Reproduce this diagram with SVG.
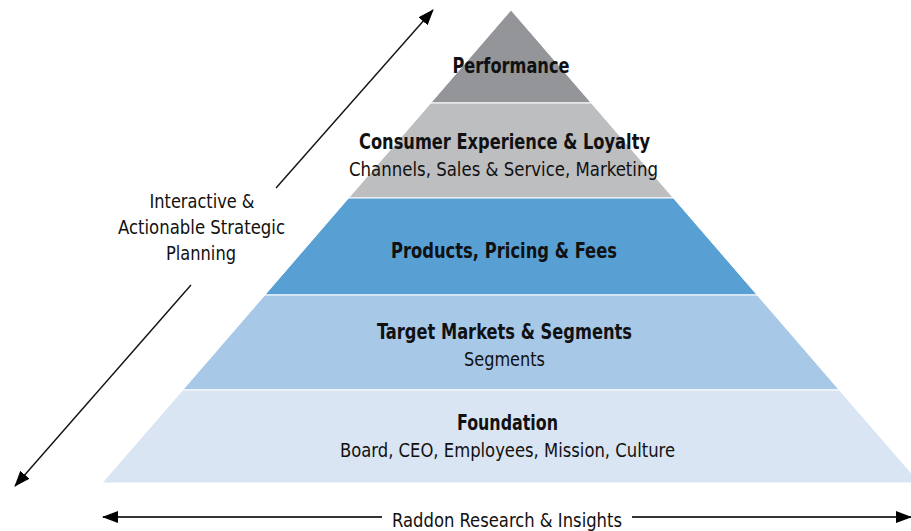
<svg xmlns="http://www.w3.org/2000/svg" width="911" height="531" viewBox="0 0 911 531">
  <defs>
    <style>
      text { font-family: "Liberation Sans Narrow", "DejaVu Sans Condensed", "Liberation Sans", sans-serif; fill: #111; text-anchor: middle; }
      .title { font-size: 21px; font-weight: bold; }
      .sub { font-size: 20px; }
      .side { font-size: 20px; }
      .layer { stroke: #ffffff; stroke-width: 1; }
      .arrow { fill: none; stroke: #111; stroke-width: 1.4; }
      .harrow { fill: none; stroke: #333; stroke-width: 2; }
    </style>
    <marker id="head" viewBox="0 0 16 12" refX="15" refY="6" markerWidth="16" markerHeight="12" markerUnits="userSpaceOnUse" orient="auto">
      <path d="M0,0 L16,6 L0,12 z" fill="#000"/>
    </marker>
  </defs>

  <rect width="911" height="531" fill="#ffffff"/>

  <!-- pyramid layers: apex (511,10), base y=483 from x=102 to x=920 -->
  <g id="performance">
    <polygon class="layer" points="511,10 591.3,103 430.7,103" fill="#949599"/>
    <text class="title" x="511" y="73" textLength="117" lengthAdjust="spacingAndGlyphs">Performance</text>
  </g>
  <g id="consumer-experience">
    <polygon class="layer" points="430.7,103 591.3,103 673.4,198 348.6,198" fill="#bdbec0"/>
    <text class="title" x="504.5" y="149" textLength="291" lengthAdjust="spacingAndGlyphs">Consumer Experience &amp; Loyalty</text>
    <text class="sub" x="503.5" y="176" textLength="309" lengthAdjust="spacingAndGlyphs">Channels, Sales &amp; Service, Marketing</text>
  </g>
  <g id="products-pricing">
    <polygon class="layer" points="348.6,198 673.4,198 757.2,295 264.8,295" fill="#589fd3"/>
    <text class="title" x="504" y="258" textLength="226" lengthAdjust="spacingAndGlyphs">Products, Pricing &amp; Fees</text>
  </g>
  <g id="target-markets">
    <polygon class="layer" points="264.8,295 757.2,295 839.3,390 182.7,390" fill="#a8c8e7"/>
    <text class="title" x="504.5" y="339" textLength="255" lengthAdjust="spacingAndGlyphs">Target Markets &amp; Segments</text>
    <text class="sub" x="504.5" y="366" textLength="81" lengthAdjust="spacingAndGlyphs">Segments</text>
  </g>
  <g id="foundation">
    <polygon class="layer" points="182.7,390 839.3,390 920,483 102,483" fill="#dae5f4"/>
    <text class="title" x="507.5" y="430" textLength="101" lengthAdjust="spacingAndGlyphs">Foundation</text>
    <text class="sub" x="507.5" y="457" textLength="335" lengthAdjust="spacingAndGlyphs">Board, CEO, Employees, Mission, Culture</text>
  </g>

  <!-- side labels -->
  <g id="planning-label">
    <text class="side" x="202" y="208" textLength="105" lengthAdjust="spacingAndGlyphs">Interactive &amp;</text>
    <text class="side" x="201.5" y="234" textLength="167" lengthAdjust="spacingAndGlyphs">Actionable Strategic</text>
    <text class="side" x="201" y="260" textLength="70" lengthAdjust="spacingAndGlyphs">Planning</text>
  </g>
  <g id="research-label">
    <text class="side" x="507" y="527" textLength="230" lengthAdjust="spacingAndGlyphs">Raddon Research &amp; Insights</text>
  </g>

  <!-- connectors -->
  <g id="connectors">
    <line class="arrow" x1="276" y1="188" x2="433" y2="10" marker-end="url(#head)"/>
    <line class="arrow" x1="191" y1="285" x2="15" y2="486" marker-end="url(#head)"/>
    <line class="harrow" x1="382" y1="517" x2="103" y2="517" marker-end="url(#head)"/>
    <line class="harrow" x1="632" y1="517" x2="911" y2="517" marker-end="url(#head)"/>
  </g>
</svg>
